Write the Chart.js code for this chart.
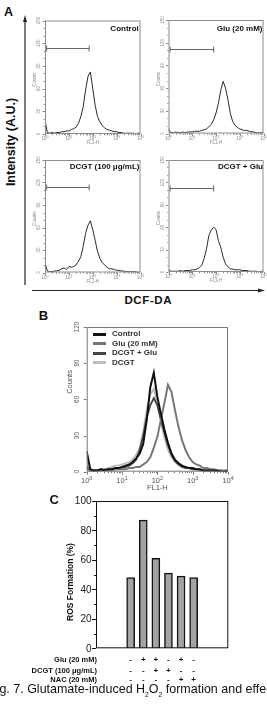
<!DOCTYPE html>
<html>
<head>
<meta charset="utf-8">
<script src="https://cdn.jsdelivr.net/npm/chart.js@4.4.1/dist/chart.umd.min.js"></script>
<style>
body { margin: 0; background: #fff; }
#fig { position: relative; width: 267px; height: 708px; overflow: hidden; font-family: "Liberation Sans", Arial, sans-serif; color: #111; }
canvas { position: absolute; }
.t { position: absolute; white-space: nowrap; line-height: 1; transform: translate(-50%, -50%); }
.r { transform: translate(-100%, -50%); }
.l { transform: translate(0, -50%); }
.rot { transform: translate(-50%, -50%) rotate(-90deg); }
.b { font-weight: bold; }
.leg { position: absolute; height: 3px; width: 13px; }
</style>
</head>
<body>
<div id="fig">
  <svg width="267" height="708" style="position:absolute;left:0;top:0">
    <line x1="25" y1="20" x2="25" y2="285" stroke="#222" stroke-width="1.2"/>
    <polygon points="25,15 23,22 27,22" fill="#222"/>
    <line x1="32" y1="290.5" x2="259" y2="290.5" stroke="#222" stroke-width="1.2"/>
    <polygon points="265,290.5 258,288.5 258,292.5" fill="#222"/>
  </svg>

  <canvas id="cA1" width="124" height="140" style="left:24px;top:12px"></canvas>
  <canvas id="cA2" width="117" height="140" style="left:150px;top:12px"></canvas>
  <canvas id="cA3" width="124" height="136" style="left:24px;top:152px"></canvas>
  <canvas id="cA4" width="117" height="136" style="left:150px;top:152px"></canvas>
  <canvas id="cB" width="175" height="178" style="left:60px;top:318px"></canvas>
  <canvas id="cC" width="165" height="160" style="left:70px;top:496px"></canvas>

  <div class="t b" style="left:8.5px;top:11.7px;font-size:12.5px">A</div>
  <div class="t b rot" style="left:11px;top:142px;font-size:12.5px">Intensity (A.U.)</div>
  <div class="t b" style="left:148.3px;top:301px;font-size:11.5px;letter-spacing:0.6px">DCF-DA</div>
  <div class="t b r" style="left:138.8px;top:29px;font-size:8px">Control</div>
  <div class="t b r" style="left:262.5px;top:29px;font-size:8px">Glu (20 mM)</div>
  <div class="t b r" style="left:139.5px;top:166.7px;font-size:8px">DCGT (100 μg/mL)</div>
  <div class="t b r" style="left:263px;top:166.7px;font-size:8px">DCGT + Glu</div>

  <div class="t b" style="left:43.5px;top:314.7px;font-size:13px">B</div>
  <div class="leg" style="left:93px;top:332.5px;background:#111"></div>
  <div class="leg" style="left:93px;top:342.2px;background:#777"></div>
  <div class="leg" style="left:93px;top:351.8px;background:#444"></div>
  <div class="leg" style="left:93px;top:361.2px;background:#bdbdbd"></div>
  <div class="t b l" style="left:112px;top:334px;font-size:8px;color:#333">Control</div>
  <div class="t b l" style="left:112px;top:343.7px;font-size:8px;color:#333">Glu (20 mM)</div>
  <div class="t b l" style="left:112px;top:353.3px;font-size:8px;color:#333">DCGT + Glu</div>
  <div class="t b l" style="left:112px;top:362.7px;font-size:8px;color:#333">DCGT</div>

  <div class="t b" style="left:54.3px;top:499.3px;font-size:13px">C</div>
  <div class="t b rot" style="left:69.5px;top:582px;font-size:8.5px">ROS Formation (%)</div>
  <div class="t b r" style="left:97px;top:660.3px;font-size:7.5px">Glu (20 mM)</div>
  <div class="t b r" style="left:97px;top:670.7px;font-size:7.5px">DCGT (100 μg/mL)</div>
  <div class="t b r" style="left:97px;top:680.3px;font-size:7.5px">NAC (20 mM)</div>
  <div id="signs"></div>

  <div class="t l" style="left:-11px;top:689.5px;font-size:13px;transform:translate(0,-50%) scaleX(0.96);transform-origin:left center">Fig. 7. Glutamate-induced H<sub style="font-size:7px">2</sub>O<sub style="font-size:7px">2</sub> formation and effect</div>
</div>

<script>
// FL1-H bins (log10 units, 10^0 .. 10^4)
const logBins = [0.0,0.1,0.2,0.3,0.4,0.5,0.6,0.7,0.8,0.9,1.0,1.1,1.2,1.3,1.4,1.5,1.6,1.7,1.8,1.9,2.0,2.1,2.2,2.3,2.4,2.5,2.6,2.7,2.8,2.9,3.0,3.1,3.2,3.3,3.4,3.5,3.6,3.7,3.8,3.9,4.0];

// panel A counts
const ctrlA    = [18,2,1,2,1,2,2,3,3,4, 4,6,7,9,14,23,36,58,76,82, 60,38,23,16,11,8,6,5,4,3, 3,2,2,1,1,1,1,1,0,1, 1];
const gluA     = [6,1,1,2,1,1,2,1,2,2, 2,3,3,3,4,5,6,9,12,18, 27,40,57,69,60,45,27,16,11,8, 6,5,4,4,3,2,2,1,1,1, 1];
const dcgtA    = [13,2,1,1,2,2,3,5,6,4, 8,7,8,10,15,21,35,52,63,69, 57,43,28,19,13,10,7,5,5,4, 3,3,2,2,1,1,1,1,1,0, 1];
const dcgtGluA = [3,1,1,1,1,2,1,2,2,2, 3,3,4,6,9,18,31,49,56,60, 57,42,33,20,11,7,4,4,3,3, 3,2,2,2,1,1,1,1,0,1, 1];

// panel B counts
const ctrlB    = [17,2,1,1,2,1,2,2,3,3, 4,5,6,8,11,15,23,43,70,82, 62,48,35,24,15,10,7,5,4,3, 3,2,2,1,1,1,1,1,0,0, 1];
const gluB     = [5,1,1,1,1,2,1,1,2,2, 2,2,3,3,4,4,6,8,12,20, 29,43,57,72,66,51,37,26,18,12, 8,6,5,3,3,2,2,1,1,1, 1];
const dcgtGluB = [3,1,1,1,2,1,2,2,2,3, 3,4,5,7,10,18,30,45,55,61, 55,43,32,22,14,9,6,4,3,3, 2,2,2,1,1,1,1,0,1,0, 1];
const dcgtB    = [12,2,1,1,2,2,3,4,5,5, 6,7,8,10,14,20,33,52,64,69, 56,42,28,18,12,8,6,4,3,3, 2,2,1,1,1,1,1,0,1,0, 1];

// marker gates in panel A (log10 FL1-H, counts)
const gateFrom  = [0.07, 0.07, 0.07, 0.07];
const gateTo    = [1.85, 1.9, 1.85, 1.9];
const gateLevel = [113, 112, 114, 113];

const yTicksA = [0, 30, 60, 90, 120, 150];
const yTicksB = [0, 30, 60, 90, 120];
const decades = [0, 1, 2, 3, 4];

// panel C
const rosValues = [48, 87, 61, 51, 49, 48];
const rosTicks = [0, 20, 40, 60, 80, 100];
const gluSigns  = ['-', '+', '+', '-', '+', '-'];
const dcgtSigns = ['-', '-', '+', '+', '-', '-'];
const nacSigns  = ['-', '-', '-', '-', '+', '+'];

function pts(vals) {
    return logBins.map((b, i) => ({ x: b, y: vals[i] }));
}

// draws frame, tick marks and labels with the chart's own scales
const decoPlugin = {
    id: 'deco',
    afterDraw(chart, args, o) {
        const ctx = chart.ctx;
        const a = chart.chartArea;
        const xs = chart.scales.x, ys = chart.scales.y;
        ctx.save();
        ctx.strokeStyle = o.frame;
        ctx.lineWidth = 1;
        ctx.strokeRect(a.left + 0.5, a.top + 0.5, a.right - a.left - 1, a.bottom - a.top - 1);

        // y ticks
        ctx.beginPath();
        for (let v = 0; v <= ys.max; v += o.yMinor) {
            const py = Math.round(ys.getPixelForValue(v)) + 0.5;
            const len = o.yTicks.includes(v) ? o.tl : o.tl / 2;
            ctx.moveTo(a.left, py);
            ctx.lineTo(a.left - len, py);
        }
        if (o.log) {
            decades.forEach(d => {
                for (let k = 1; k <= (d < 4 ? 9 : 1); k++) {
                    const px = Math.round(xs.getPixelForValue(d + Math.log10(k))) + 0.5;
                    const len = k === 1 ? o.tl : o.tl / 2;
                    ctx.moveTo(px, a.bottom);
                    ctx.lineTo(px, a.bottom + len);
                }
            });
        }
        ctx.stroke();

        ctx.fillStyle = o.text;
        ctx.textBaseline = 'middle';
        ctx.textAlign = 'center';
        if (o.log) {
            // rotated y tick labels
            ctx.font = o.yFont;
            o.yTicks.forEach(v => {
                ctx.save();
                ctx.translate(a.left - o.yLabOff, ys.getPixelForValue(v));
                ctx.rotate(-Math.PI / 2);
                ctx.fillText(String(v), 0, 0);
                ctx.restore();
            });
            // 10^n labels
            decades.forEach(d => {
                const px = xs.getPixelForValue(d);
                ctx.font = o.xFont;
                const w = ctx.measureText('10').width;
                ctx.font = o.supFont;
                const ws = ctx.measureText(String(d)).width;
                const x0 = px - (w + ws) / 2;
                ctx.textAlign = 'left';
                ctx.font = o.xFont;
                ctx.fillText('10', x0, a.bottom + o.xLabOff);
                ctx.font = o.supFont;
                ctx.fillText(String(d), x0 + w, a.bottom + o.xLabOff - o.supUp);
                ctx.textAlign = 'center';
            });
            ctx.font = o.titleFont;
            ctx.fillText('FL1-H', (a.left + a.right) / 2, a.bottom + o.flOff);
            ctx.save();
            ctx.translate(a.left - o.countsOff, a.top + (a.bottom - a.top) * o.countsPos);
            ctx.rotate(-Math.PI / 2);
            ctx.fillText('Counts', 0, 0);
            ctx.restore();
        } else {
            ctx.font = o.yFont;
            ctx.textAlign = 'right';
            o.yTicks.forEach(v => {
                ctx.fillText(String(v), a.left - o.yLabOff, ys.getPixelForValue(v) + 0.5);
            });
        }

        // marker gate
        if (o.gate) {
            const g = o.gate;
            const gy = Math.round(ys.getPixelForValue(g.level)) + 0.5;
            const x1 = xs.getPixelForValue(g.from), x2 = xs.getPixelForValue(g.to);
            ctx.strokeStyle = '#666';
            ctx.beginPath();
            ctx.moveTo(x1, gy); ctx.lineTo(x2, gy);
            ctx.moveTo(x1, gy - 3); ctx.lineTo(x1, gy + 3);
            ctx.moveTo(x2, gy - 3); ctx.lineTo(x2, gy + 3);
            ctx.stroke();
        }
        ctx.restore();
    }
};

function pad(canvasBox, plotBox) {
    return {
        left: plotBox.l - canvasBox.x,
        top: plotBox.t - canvasBox.y,
        right: canvasBox.x + canvasBox.w - plotBox.r,
        bottom: canvasBox.y + canvasBox.h - plotBox.b
    };
}

function histA(id, cbox, pbox, vals, gi) {
    return new Chart(document.getElementById(id), {
        type: 'line',
        data: {
            datasets: [{
                data: pts(vals),
                borderColor: '#2a2a2a',
                borderWidth: 1,
                pointRadius: 0,
                tension: 0
            }]
        },
        options: {
            responsive: false,
            animation: false,
            layout: { padding: pad(cbox, pbox) },
            plugins: {
                legend: { display: false },
                tooltip: { enabled: false },
                deco: {
                    frame: '#8c8c8c', text: '#8a8a8a', tl: 2.5, yMinor: 10, yTicks: yTicksA, log: true,
                    yFont: '4.5px "Liberation Sans"', xFont: '4.5px "Liberation Sans"', supFont: '3.5px "Liberation Sans"',
                    titleFont: '4.5px "Liberation Sans"', yLabOff: 6, xLabOff: 5, supUp: 1.5, flOff: 9,
                    countsOff: 10, countsPos: 0.52,
                    gate: { from: gateFrom[gi], to: gateTo[gi], level: gateLevel[gi] }
                }
            },
            scales: {
                x: { type: 'linear', min: 0, max: 4, display: false },
                y: { min: 0, max: 150, display: false }
            }
        },
        plugins: [decoPlugin]
    });
}

histA('cA1', { x: 24, y: 12, w: 124, h: 140 }, { l: 45, t: 20.5, r: 140.5, b: 134 }, ctrlA, 0);
histA('cA2', { x: 150, y: 12, w: 117, h: 140 }, { l: 168.5, t: 20, r: 263.5, b: 133.5 }, gluA, 1);
histA('cA3', { x: 24, y: 152, w: 124, h: 136 }, { l: 45, t: 160, r: 140.5, b: 272.5 }, dcgtA, 2);
histA('cA4', { x: 150, y: 152, w: 117, h: 136 }, { l: 168.5, t: 160, r: 263.5, b: 272 }, dcgtGluA, 3);

// panel B overlay
new Chart(document.getElementById('cB'), {
    type: 'line',
    data: {
        datasets: [
            { label: 'Control', data: pts(ctrlB), borderColor: '#111', borderWidth: 2, order: 0 },
            { label: 'Glu (20 mM)', data: pts(gluB), borderColor: '#777', borderWidth: 2, order: 1 },
            { label: 'DCGT + Glu', data: pts(dcgtGluB), borderColor: '#444', borderWidth: 1.8, order: 2 },
            { label: 'DCGT', data: pts(dcgtB), borderColor: '#bdbdbd', borderWidth: 1.8, order: 3 }
        ]
    },
    options: {
        responsive: false,
        animation: false,
        elements: { point: { radius: 0 }, line: { tension: 0 } },
        layout: { padding: pad({ x: 60, y: 318, w: 175, h: 178 }, { l: 86.7, t: 327, r: 228, b: 471.7 }) },
        plugins: {
            legend: { display: false },
            tooltip: { enabled: false },
            deco: {
                frame: '#7a7a7a', text: '#555', tl: 3, yMinor: 30, yTicks: yTicksB, log: true,
                yFont: '6.5px "Liberation Sans"', xFont: '7.5px "Liberation Sans"', supFont: '5.5px "Liberation Sans"',
                titleFont: '7.5px "Liberation Sans"', yLabOff: 9, xLabOff: 9.5, supUp: 3, flOff: 16,
                countsOff: 16.5, countsPos: 0.38
            }
        },
        scales: {
            x: { type: 'linear', min: 0, max: 4, display: false },
            y: { min: 0, max: 120, display: false }
        }
    },
    plugins: [decoPlugin]
});

// panel C bars
const chartC = new Chart(document.getElementById('cC'), {
    type: 'bar',
    data: {
        datasets: [{
            data: rosValues.map((v, i) => ({ x: i + 1, y: v })),
            backgroundColor: '#a3a3a3',
            borderColor: '#141414',
            borderWidth: 1.5,
            barThickness: 8
        }]
    },
    options: {
        responsive: false,
        animation: false,
        layout: { padding: pad({ x: 70, y: 496, w: 165, h: 160 }, { l: 96, t: 501, r: 228.3, b: 648.3 }) },
        plugins: {
            legend: { display: false },
            tooltip: { enabled: false },
            deco: {
                frame: '#111', text: '#222', tl: 4, yMinor: 10, yTicks: rosTicks, log: false,
                yFont: '10px "Liberation Sans"', yLabOff: 4.5
            }
        },
        scales: {
            x: { type: 'linear', min: 0, max: 7, display: false },
            y: { min: 0, max: 100, display: false }
        }
    },
    plugins: [decoPlugin]
});

// +/- rows under the bars, placed with the bar chart's x scale
const signRows = [[gluSigns, 660.3], [dcgtSigns, 670.7], [nacSigns, 680.3]];
const signsDiv = document.getElementById('signs');
signRows.forEach(([signs, yy]) => {
    signs.forEach((s, i) => {
        const el = document.createElement('div');
        el.className = 't b';
        el.style.left = (70 + chartC.scales.x.getPixelForValue(i + 1)) + 'px';
        el.style.top = yy + 'px';
        el.style.fontSize = '8px';
        el.textContent = s;
        signsDiv.appendChild(el);
    });
});
</script>
</body>
</html>
